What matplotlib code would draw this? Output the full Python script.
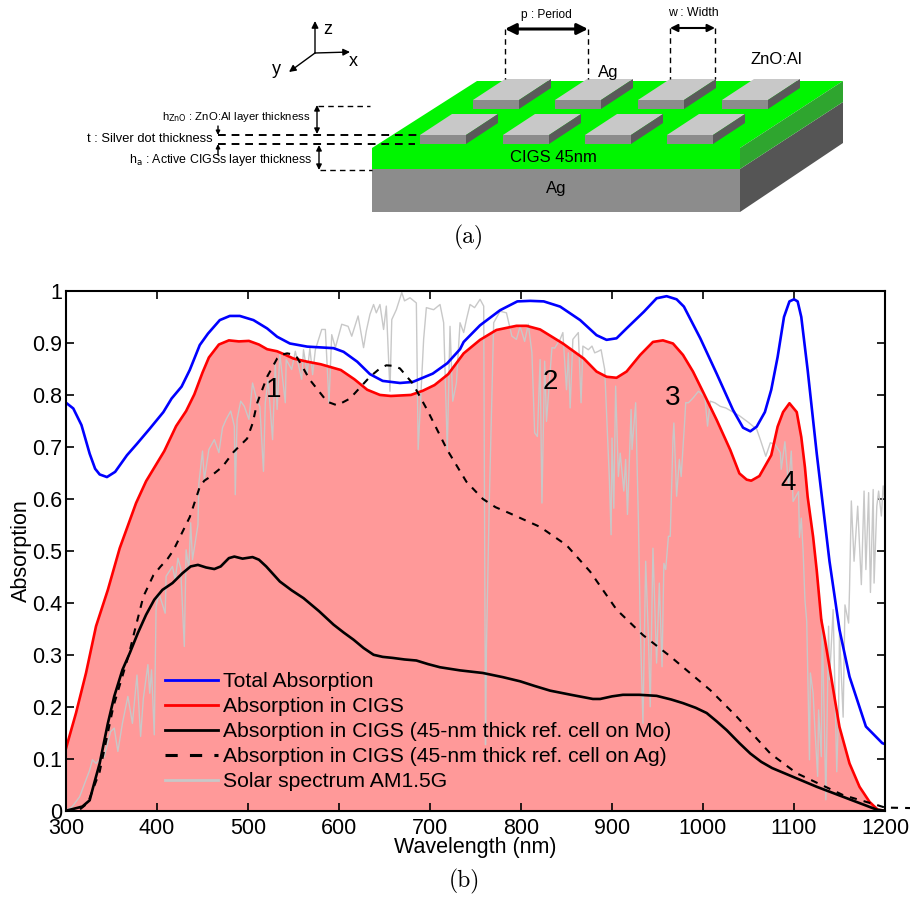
import matplotlib
matplotlib.use("Agg")
import matplotlib.pyplot as plt
from matplotlib.lines import Line2D
from matplotlib.patches import Polygon

plt.rcParams['font.family'] = ['Liberation Sans', 'DejaVu Sans']

total_wl = [300, 308, 317, 326, 332, 337, 345, 354, 367, 378, 392, 407, 416, 427, 436, 447, 456, 469, 480, 491, 506, 521, 532, 546, 565, 594, 605, 620, 634, 648, 667, 681, 703, 719, 733, 737, 755, 777, 796, 810, 825, 843, 865, 883, 894, 905, 916, 935, 949, 960, 971, 979, 997, 1015, 1033, 1044, 1052, 1059, 1068, 1075, 1082, 1089, 1095, 1100, 1104, 1108, 1115, 1125, 1139, 1150, 1161, 1179, 1197, 1200]
total_abs = [0.785, 0.774, 0.742, 0.687, 0.658, 0.647, 0.642, 0.652, 0.684, 0.706, 0.735, 0.767, 0.793, 0.816, 0.848, 0.896, 0.918, 0.944, 0.952, 0.952, 0.944, 0.928, 0.912, 0.899, 0.893, 0.89, 0.883, 0.864, 0.84, 0.827, 0.823, 0.825, 0.841, 0.861, 0.888, 0.902, 0.934, 0.963, 0.98, 0.981, 0.98, 0.97, 0.944, 0.915, 0.906, 0.909, 0.928, 0.96, 0.986, 0.99, 0.984, 0.97, 0.909, 0.841, 0.771, 0.737, 0.73, 0.739, 0.767, 0.81, 0.873, 0.95, 0.98, 0.984, 0.98, 0.95, 0.848, 0.687, 0.48, 0.348, 0.258, 0.162, 0.13, 0.128]

cigs_wl = [300, 311, 322, 333, 346, 359, 377, 388, 408, 421, 432, 441, 450, 457, 468, 479, 490, 501, 512, 521, 532, 540, 550, 565, 580, 602, 617, 631, 645, 657, 679, 692, 705, 720, 737, 755, 773, 795, 806, 821, 846, 869, 883, 894, 905, 916, 931, 945, 956, 967, 978, 989, 1000, 1015, 1030, 1040, 1048, 1053, 1062, 1075, 1082, 1088, 1095, 1103, 1108, 1112, 1115, 1121, 1125, 1130, 1134, 1139, 1145, 1150, 1161, 1172, 1183, 1192, 1200]
cigs_abs = [0.12, 0.188, 0.265, 0.355, 0.425, 0.505, 0.592, 0.634, 0.692, 0.74, 0.769, 0.801, 0.843, 0.872, 0.897, 0.905, 0.903, 0.904, 0.897, 0.888, 0.884, 0.878, 0.87, 0.864, 0.859, 0.848, 0.83, 0.81, 0.80, 0.798, 0.80, 0.808, 0.819, 0.84, 0.88, 0.906, 0.925, 0.933, 0.933, 0.926, 0.899, 0.87, 0.845, 0.835, 0.833, 0.845, 0.877, 0.902, 0.905, 0.899, 0.877, 0.845, 0.806, 0.752, 0.694, 0.649, 0.637, 0.635, 0.644, 0.684, 0.739, 0.767, 0.784, 0.767, 0.719, 0.661, 0.604, 0.527, 0.462, 0.367, 0.329, 0.277, 0.213, 0.161, 0.091, 0.046, 0.017, 0.002, 0.0]

mo_wl = [300, 307, 318, 326, 331, 337, 346, 353, 362, 370, 379, 388, 397, 406, 417, 428, 437, 445, 454, 463, 470, 479, 485, 494, 505, 512, 520, 535, 548, 561, 578, 594, 605, 616, 627, 638, 648, 659, 672, 685, 698, 711, 733, 758, 780, 799, 815, 832, 855, 879, 887, 900, 912, 930, 949, 965, 978, 992, 1004, 1015, 1026, 1040, 1052, 1064, 1076, 1125, 1191, 1200]
mo_abs = [0.0, 0.003, 0.008, 0.02, 0.053, 0.091, 0.168, 0.22, 0.271, 0.303, 0.342, 0.377, 0.406, 0.425, 0.438, 0.457, 0.47, 0.473, 0.468, 0.465, 0.47, 0.486, 0.489, 0.485, 0.488, 0.483, 0.47, 0.441, 0.424, 0.409, 0.384, 0.358, 0.343, 0.329, 0.313, 0.30, 0.296, 0.294, 0.291, 0.289, 0.282, 0.276, 0.27, 0.265, 0.257, 0.249, 0.24, 0.231, 0.223, 0.215, 0.215, 0.22, 0.223, 0.223, 0.221, 0.214, 0.207, 0.198, 0.188, 0.172, 0.155, 0.13, 0.11, 0.094, 0.082, 0.046, 0.002, 0.0]

ag_wl = [300, 315, 324, 337, 352, 369, 374, 385, 396, 404, 411, 418, 436, 447, 452, 458, 472, 484, 499, 505, 510, 521, 532, 538, 543, 549, 554, 568, 587, 598, 612, 634, 645, 652, 660, 667, 681, 697, 719, 740, 758, 772, 788, 821, 850, 876, 905, 934, 964, 1008, 1037, 1074, 1103, 1154, 1191, 1200, 1230]
ag_abs = [0.0, 0.002, 0.015, 0.075, 0.2, 0.30, 0.336, 0.412, 0.453, 0.47, 0.483, 0.501, 0.565, 0.623, 0.635, 0.642, 0.662, 0.69, 0.716, 0.745, 0.784, 0.835, 0.87, 0.878, 0.88, 0.878, 0.872, 0.829, 0.787, 0.78, 0.793, 0.835, 0.851, 0.857, 0.856, 0.851, 0.822, 0.771, 0.694, 0.633, 0.60, 0.584, 0.572, 0.546, 0.511, 0.46, 0.387, 0.338, 0.297, 0.232, 0.181, 0.11, 0.072, 0.03, 0.011, 0.006, 0.005]

solar_wl = [300, 307, 315, 320, 326, 329, 333, 337, 342, 349, 353, 357, 362, 368, 373, 378, 382, 385, 390, 392, 394, 397, 399, 402, 409, 410, 417, 420, 423, 426, 430, 432, 435, 437, 439, 445, 446, 450, 452, 457, 463, 468, 472, 476, 481, 485, 486, 488, 492, 496, 501, 505, 510, 513, 517, 519, 522, 527, 530, 532, 535, 541, 542, 548, 552, 559, 561, 565, 568, 571, 574, 581, 585, 589, 592, 596, 599, 603, 610, 614, 621, 627, 630, 634, 638, 641, 645, 649, 652, 656, 658, 663, 669, 672, 678, 685, 687, 693, 696, 704, 711, 715, 719, 722, 725, 729, 733, 737, 740, 744, 749, 755, 759, 761, 762, 765, 770, 777, 784, 790, 795, 799, 804, 808, 812, 815, 818, 821, 823, 826, 828, 834, 837, 843, 846, 850, 852, 854, 857, 863, 866, 868, 874, 878, 881, 885, 888, 892, 897, 899, 900, 902, 904, 907, 909, 913, 915, 917, 921, 922, 926, 929, 931, 934, 937, 940, 942, 945, 949, 952, 955, 957, 959, 962, 964, 967, 968, 971, 974, 976, 980, 981, 984, 989, 995, 1002, 1005, 1008, 1013, 1019, 1025, 1032, 1040, 1050, 1059, 1063, 1069, 1074, 1079, 1085, 1086, 1090, 1094, 1097, 1099, 1105, 1106, 1108, 1110, 1112, 1114, 1117, 1118, 1121, 1123, 1126, 1127, 1130, 1131, 1135, 1138, 1139, 1143, 1147, 1149, 1150, 1154, 1156, 1160, 1161, 1163, 1166, 1170, 1174, 1177, 1179, 1182, 1184, 1187, 1188, 1191, 1193, 1196, 1198, 1200]
solar_val = [0.0, 0.008, 0.027, 0.05, 0.078, 0.098, 0.091, 0.099, 0.104, 0.152, 0.159, 0.114, 0.168, 0.22, 0.168, 0.261, 0.143, 0.216, 0.281, 0.226, 0.271, 0.146, 0.393, 0.419, 0.38, 0.451, 0.47, 0.444, 0.486, 0.467, 0.316, 0.502, 0.464, 0.554, 0.483, 0.55, 0.63, 0.692, 0.637, 0.695, 0.714, 0.689, 0.737, 0.753, 0.769, 0.74, 0.608, 0.753, 0.788, 0.778, 0.753, 0.823, 0.788, 0.778, 0.653, 0.785, 0.83, 0.714, 0.862, 0.772, 0.878, 0.785, 0.868, 0.849, 0.884, 0.83, 0.887, 0.842, 0.89, 0.839, 0.887, 0.926, 0.926, 0.785, 0.916, 0.891, 0.91, 0.936, 0.932, 0.913, 0.952, 0.891, 0.923, 0.955, 0.974, 0.958, 0.974, 0.926, 0.971, 0.807, 0.945, 0.964, 0.997, 0.981, 0.987, 0.977, 0.695, 0.907, 0.968, 0.964, 0.974, 0.939, 0.695, 0.932, 0.788, 0.823, 0.939, 0.92, 0.945, 0.974, 0.968, 0.984, 0.971, 0.127, 0.31, 0.585, 0.939, 0.961, 0.958, 0.913, 0.907, 0.932, 0.903, 0.936, 0.881, 0.727, 0.72, 0.868, 0.592, 0.865, 0.749, 0.891, 0.89, 0.907, 0.92, 0.81, 0.881, 0.775, 0.907, 0.92, 0.785, 0.894, 0.887, 0.894, 0.881, 0.884, 0.887, 0.849, 0.643, 0.531, 0.717, 0.582, 0.817, 0.643, 0.688, 0.615, 0.676, 0.57, 0.772, 0.695, 0.785, 0.56, 0.361, 0.168, 0.48, 0.335, 0.2, 0.505, 0.284, 0.438, 0.277, 0.476, 0.464, 0.528, 0.528, 0.714, 0.746, 0.605, 0.676, 0.643, 0.753, 0.785, 0.785, 0.794, 0.807, 0.797, 0.74, 0.788, 0.785, 0.778, 0.775, 0.768, 0.76, 0.747, 0.734, 0.714, 0.682, 0.708, 0.705, 0.689, 0.657, 0.71, 0.625, 0.692, 0.595, 0.614, 0.526, 0.563, 0.5, 0.406, 0.364, 0.098, 0.265, 0.226, 0.156, 0.066, 0.194, 0.104, 0.368, 0.021, 0.355, 0.252, 0.387, 0.075, 0.194, 0.342, 0.18, 0.396, 0.361, 0.425, 0.596, 0.48, 0.586, 0.435, 0.615, 0.464, 0.612, 0.42, 0.618, 0.438, 0.586, 0.615, 0.567, 0.625, 0.592]

x_ticks = [300, 400, 500, 600, 700, 800, 900, 1000, 1100, 1200]
y_ticks = [0, 0.1, 0.2, 0.3, 0.4, 0.5, 0.6, 0.7, 0.8, 0.9, 1]
y_tick_labels = ['0', '0.1', '0.2', '0.3', '0.4', '0.5', '0.6', '0.7', '0.8', '0.9', '1']
peak_labels = ['1', '2', '3', '4']
peak_wl = [528, 832, 967, 1093]
peak_y = [0.809, 0.824, 0.795, 0.630]

fig = plt.figure(figsize=(9.1, 9.0), dpi=100)

# panel (a): sketch drawn in pixel coordinates of the figure
sk = fig.add_axes([0, 0, 1, 1])
sk.set_xlim(0, 910)
sk.set_ylim(900, 0)
sk.axis('off')

def poly(pts, color):
    sk.add_patch(Polygon(pts, closed=True, fc=color, ec='none'))

def dash(x0, y0, x1, y1, lw=1.0):
    sk.plot([x0, x1], [y0, y1], color='k', lw=lw, ls=(0, (4, 3)))

def arrow(x0, y0, x1, y1, style='<|-|>', lw=1.0, ms=9):
    sk.annotate('', xy=(x1, y1), xytext=(x0, y0),
                arrowprops=dict(arrowstyle=style, color='k', lw=lw, mutation_scale=ms, shrinkA=0, shrinkB=0))

poly([(372, 169), (740, 169), (740, 212), (372, 212)], '#8c8c8c')
poly([(740, 169), (843, 102), (843, 143), (740, 212)], '#555555')
poly([(372, 148), (477, 81), (843, 81), (740, 148), (740, 169), (372, 169)], '#00f500')
poly([(740, 148), (843, 81), (843, 102), (740, 169)], '#2fa52f')

for x0, y0 in [(473, 100), (555, 100), (638, 100), (722, 100), (420, 135), (503, 135), (585, 135), (667, 135)]:
    poly([(x0, y0), (x0 + 46, y0), (x0 + 78, y0 - 21), (x0 + 32, y0 - 21)], '#c8c8c8')
    poly([(x0, y0), (x0 + 46, y0), (x0 + 46, y0 + 9), (x0, y0 + 9)], '#8c8c8c')
    poly([(x0 + 46, y0), (x0 + 78, y0 - 21), (x0 + 78, y0 - 12), (x0 + 46, y0 + 9)], '#5a5a5a')

dash(505, 29, 505, 79)
dash(588, 29, 588, 79)
dash(670, 28, 670, 79)
dash(715, 28, 715, 79)
arrow(505, 29, 588, 29, lw=2.2, ms=16)
arrow(670, 28, 715, 28, lw=1.5, ms=11)

arrow(315, 53, 315, 21, '-|>', ms=10)
arrow(315, 53, 350, 52, '-|>', ms=10)
arrow(315, 53, 289, 72, '-|>', ms=10)

dash(318, 106, 370, 106)
dash(218, 135, 420, 135, 1.4)
dash(218, 144, 415, 144, 1.4)
dash(320, 170, 372, 170)
arrow(317, 105, 317, 134, ms=8)
arrow(319, 145, 319, 170, ms=8)
arrow(218, 126, 218, 135, '-|>', ms=6)
arrow(218, 155, 218, 144, '-|>', ms=6)

sk.text(328, 29, 'z', fontsize=13, ha='center', va='center')
sk.text(353, 62, 'x', fontsize=13, ha='center', va='center')
sk.text(276, 70, 'y', fontsize=13, ha='center', va='center')
sk.text(546, 15, 'p : Period', fontsize=8.6, ha='center', va='center')
sk.text(693, 13, 'w : Width', fontsize=8.8, ha='center', va='center')
sk.text(608, 72, 'Ag', fontsize=12, ha='center', va='center')
sk.text(776, 59, 'ZnO:Al', fontsize=12, ha='center', va='center')
sk.text(553, 157, 'CIGS 45nm', fontsize=12, ha='center', va='center')
sk.text(556, 188, 'Ag', fontsize=12, ha='center', va='center')
sk.text(310, 117, r'h$_{\mathrm{ZnO}}$ : ZnO:Al layer thickness', fontsize=8.2, ha='right', va='center')
sk.text(213, 139, 't : Silver dot thickness', fontsize=9.3, ha='right', va='center')
sk.text(312, 160, r'h$_{\mathrm{a}}$ : Active CIGSs layer thickness', fontsize=8.9, ha='right', va='center')

sk.text(469, 237, '(a)', fontsize=17, ha='center', va='center', family='cmr10')
sk.text(464, 881, '(b)', fontsize=17, ha='center', va='center', family='cmr10')

# panel (b): absorption spectra
ax = fig.add_axes([66 / 910, (900 - 810.7) / 900, (885 - 66) / 910, (810.7 - 291) / 900])
ax.patch.set_alpha(0)
ax.fill_between(cigs_wl, cigs_abs, 0, color='#ff9999', lw=0, zorder=1)
ax.plot(solar_wl, solar_val, color='#c8c8c8', lw=1.0, zorder=2)
ax.plot(total_wl, total_abs, color='b', lw=1.9, zorder=3)
ax.plot(cigs_wl, cigs_abs, color='r', lw=1.9, zorder=3)
ax.plot(mo_wl, mo_abs, color='k', lw=1.9, zorder=4)
ax.plot(ag_wl, ag_abs, color='k', lw=1.5, ls=(0, (3.4, 3.4)), clip_on=False, zorder=4)

ax.set_xlim(300, 1200)
ax.set_ylim(0, 1)
ax.set_xticks(x_ticks)
ax.set_yticks(y_ticks)
ax.set_yticklabels(y_tick_labels)
ax.tick_params(direction='in', length=6, width=1.2, labelsize=15.5, top=True, right=True, pad=3)
ax.tick_params(axis='x', pad=5)
for s in ax.spines.values():
    s.set_linewidth(1.5)
    s.set_zorder(6)
ax.set_xlabel('Wavelength (nm)', fontsize=15.5, labelpad=-1)
ax.set_ylabel('Absorption', fontsize=15.5, labelpad=0)

for lab, w, v in zip(peak_labels, peak_wl, peak_y):
    ax.text(w, v, lab, fontsize=20, ha='center', va='center', zorder=5)

handles = [Line2D([], [], color='b', lw=2),
           Line2D([], [], color='r', lw=2),
           Line2D([], [], color='k', lw=2),
           Line2D([], [], color='k', lw=2.2, ls=(0, (4, 4))),
           Line2D([], [], color='#c8c8c8', lw=2)]
leg_labels = ['Total Absorption', 'Absorption in CIGS', 'Absorption in CIGS (45-nm thick ref. cell on Mo)',
              'Absorption in CIGS (45-nm thick ref. cell on Ag)', 'Solar spectrum AM1.5G']
ax.legend(handles, leg_labels, fontsize=15.2, frameon=False, loc='lower left', bbox_to_anchor=(0.121, 0.037),
          borderpad=0, borderaxespad=0, labelspacing=0.29, handlelength=2.5, handletextpad=0.25)

fig.savefig('out.png', dpi=100)
